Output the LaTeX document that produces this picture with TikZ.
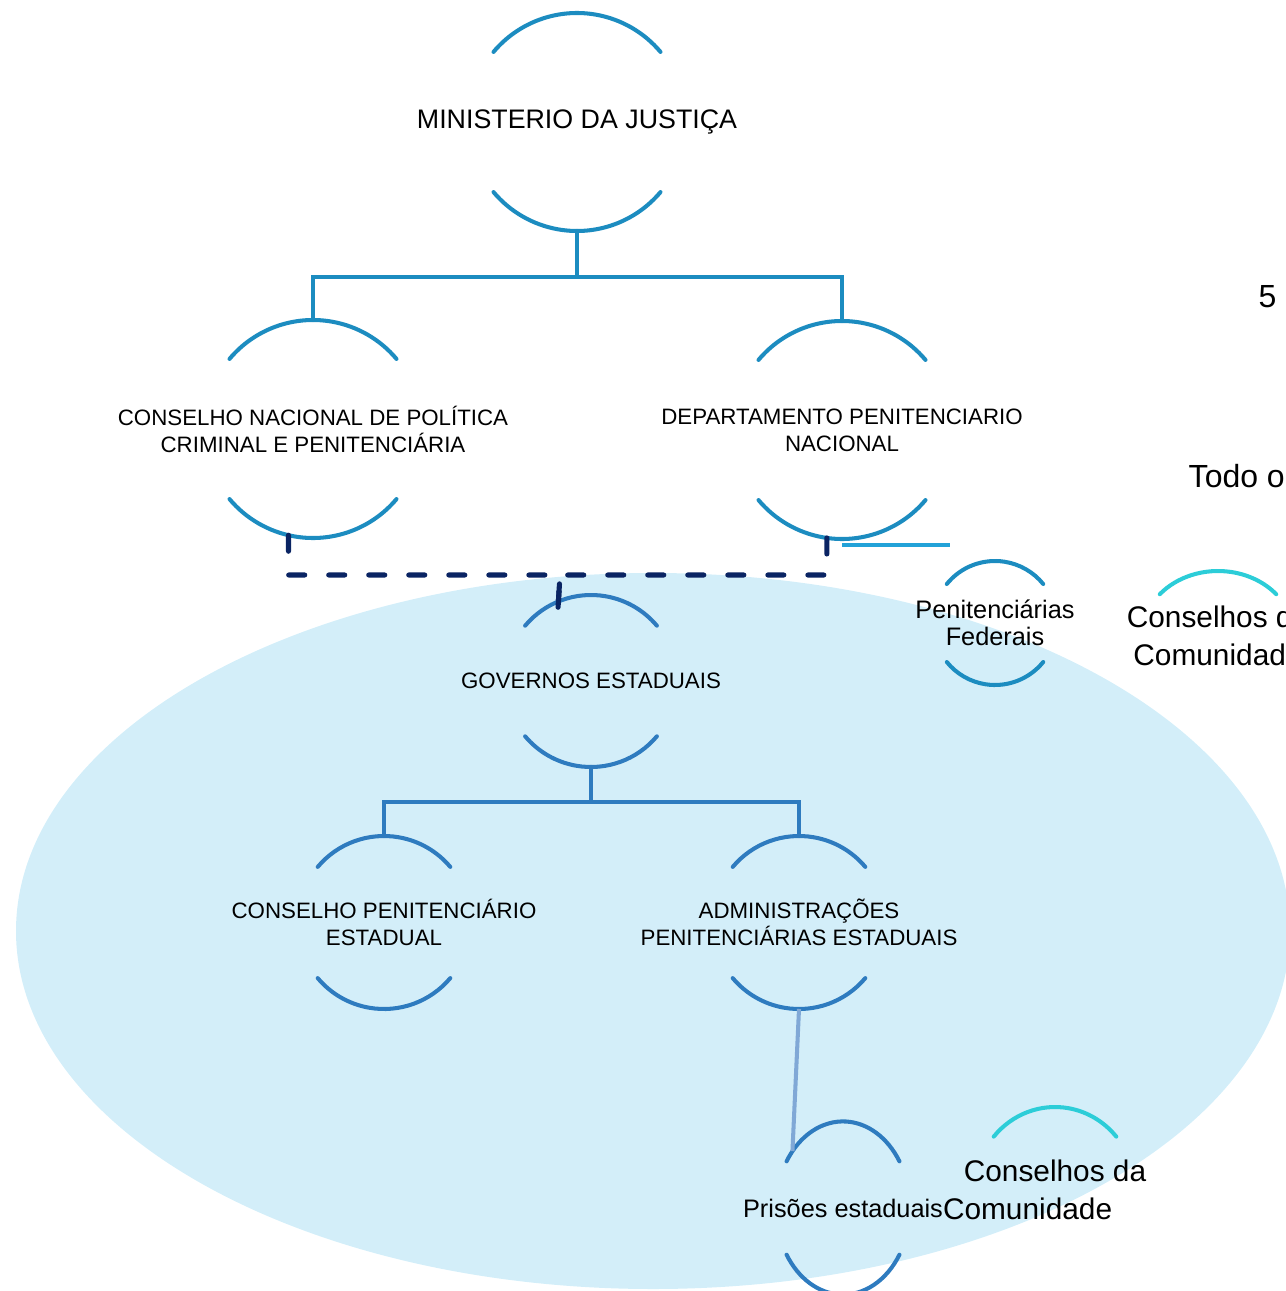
\documentclass[tikz,border=0pt]{standalone}
\usepackage{fontspec}
\setmainfont{Liberation Sans}
\usetikzlibrary{calc}

\definecolor{orgblue}{HTML}{1C8CC0}
\definecolor{stateblue}{HTML}{2E7BBF}
\definecolor{linkblue}{HTML}{22A2D8}
\definecolor{navyline}{HTML}{0A2463}
\definecolor{steelblue}{HTML}{80A8D6}
\definecolor{cyanarc}{HTML}{2CCDD8}
\definecolor{stateshade}{HTML}{D3EEF9}

\tikzset{
  title/.style={font=\fontsize{7.62}{9}\selectfont, inner sep=0pt},
  caps/.style={font=\fontsize{6.34}{7.68}\selectfont, align=center, inner sep=0pt},
  lower/.style={font=\fontsize{7.2}{7.68}\selectfont, align=center, inner sep=0pt},
  big/.style={font=\fontsize{8.48}{10.95}\selectfont, align=center, inner sep=0pt},
  side/.style={font=\fontsize{9.1}{11}\selectfont, inner sep=0pt, anchor=west},
  orgline/.style={orgblue, line width=1.15pt, line cap=round},
  stateline/.style={stateblue, line width=1.15pt, line cap=round},
  linkdash/.style={navyline, line width=1.45pt, line cap=round, dash pattern=on 0.16cm off 0.24cm},
}

% arco de cima / arco de baixo: no, raio x, raio y, angulo, estilo
\newcommand{\toparc}[5]{%
  \draw[#5] (#1.center) ++(180+#4:#2 and #3) arc[start angle=180+#4, end angle=360-#4, x radius=#2, y radius=#3];}
\newcommand{\ringnode}[5]{%
  \toparc{#1}{#2}{#3}{#4}{#5}
  \draw[#5] (#1.center) ++(#4:#2 and #3) arc[start angle=#4, end angle=180-#4, x radius=#2, y radius=#3];
  \path (#1.center) ++(0,-#3) coordinate (#1-t) ++(0,2*#3) coordinate (#1-b);}

\begin{document}
\begin{tikzpicture}[x=0.01cm, y=-0.01cm]
    \useasboundingbox (0,0) rectangle (1286,1291);
    % esfera estadual
    \fill[stateshade] (653,931) ellipse[x radius=637, y radius=358];

    % textos
    \node[title] (mj) at (577,122) {MINISTERIO DA JUSTIÇA};
    \node[caps] (cn) at (313,429) {CONSELHO NACIONAL DE POLÍTICA\\CRIMINAL E PENITENCIÁRIA};
    \node[caps] (dn) at (842,430) {DEPARTAMENTO PENITENCIARIO\\NACIONAL};
    \node[caps] (ge) at (591,681) {GOVERNOS ESTADUAIS};
    \node[caps] (cp) at (384,922.5) {CONSELHO PENITENCIÁRIO\\ESTADUAL};
    \node[caps] (ap) at (799,922.5) {ADMINISTRAÇÕES\\PENITENCIÁRIAS ESTADUAIS};
    \node[lower] (pf) at (995,623) {Penitenciárias\\Federais};
    \node[lower] (pe) at (843,1208) {Prisões estaduais};
    \node[big] (cc) at (1055,1190) {Conselhos da\\\hspace*{-15.6pt}Comunidade};
    \node[big] (cr) at (1218,636) {Conselhos da\\Comunidade};
    \node[side] (n5) at (1258,297) {5};
    \node[side] (todo) at (1188,476) {Todo o};

    % arcos
    \ringnode{mj}{109}{109}{40}{orgline}
    \ringnode{cn}{109}{109}{40}{orgline}
    \ringnode{dn}{109}{109}{40}{orgline}
    \ringnode{pf}{62}{62}{39}{orgline}
    \ringnode{ge}{86}{86}{40}{stateline}
    \ringnode{cp}{86.5}{86.5}{40}{stateline}
    \ringnode{ap}{86.5}{86.5}{40}{stateline}
    \ringnode{pe}{67}{86.6}{32.6}{stateline}
    \toparc{cc}{80}{83}{40}{cyanarc, line width=1.15pt, line cap=round}
    \toparc{cr}{76}{65}{40}{cyanarc, line width=1.15pt, line cap=round}

    % ligacoes
    \draw[orgline] (mj-b) -- ++(0,46) -| (cn-t);
    \draw[orgline] (mj-b) -- ++(0,46) -| (dn-t);
    \draw[stateline] (ge-b) -- ++(0,35) -| (cp-t);
    \draw[stateline] (ge-b) -- ++(0,35) -| (ap-t);

    \coordinate (pf-stub) at (950,545);
    \draw[linkblue, line width=1.15pt] (dn-b |- pf-stub) -- (pf-stub);

    \path (pe.center) ++(221:67 and 86.6) coordinate (pe-j);
    \draw[steelblue, line width=1.15pt] (ap-b) -- (pe-j);

    % ligacao tracejada
    \path (cn.center) ++(103:109) coordinate (cn-d);
    \path (dn.center) ++(98:109) coordinate (dn-d);
    \coordinate (ge-d) at ($(ge.center)+(-33,-73)$);
    \coordinate (bus) at (560,575);
    \draw[linkdash] (cn-d) |- (bus) -- (ge-d);
    \draw[linkdash] (dn-d) |- (bus) -- (ge-d);
\end{tikzpicture}
\end{document}
